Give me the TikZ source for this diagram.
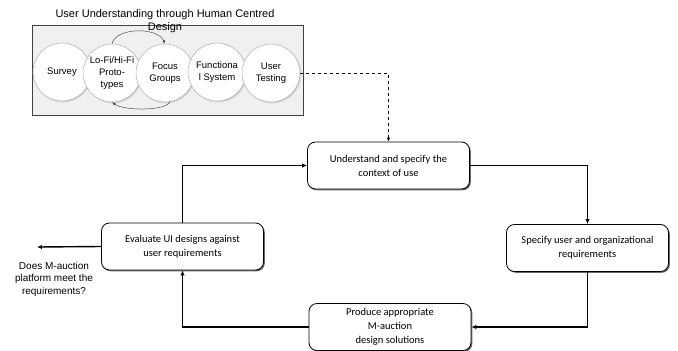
\documentclass[tikz,border=0pt]{standalone}
\usepackage{fontspec}
\setmainfont{Carlito}
\newfontfamily\arialf{Liberation Sans}
\usetikzlibrary{shadows,arrows.meta}
\begin{document}
\begin{tikzpicture}[x=1pt,y=-1pt,
  stepbox/.style={draw, line width=0.8pt, rounded corners=8pt, fill=white,
    minimum width=162pt, minimum height=47pt, align=center,
    font=\fontsize{10.5}{14}\selectfont,
    drop shadow={shadow xshift=1.3pt, shadow yshift=-1.3pt, fill=black!65, opacity=0.9}},
  hcd/.style={circle, draw=gray!60, line width=0.5pt, fill=white, minimum size=58pt,
    inner sep=0pt, align=center, font=\arialf\fontsize{9.5}{12}\selectfont,
    circular drop shadow={shadow xshift=0.8pt, shadow yshift=-0.8pt, shadow scale=1.03, fill=gray!70}},
  flow/.style={line width=1.4pt, -{Latex[length=5pt,width=4.5pt]}},
  loop/.style={line width=0.5pt, draw=black!70, -{Latex[length=3.5pt,width=3pt]}},
]
\useasboundingbox (0,0) rectangle (678,351);

% human centred design panel
\node[draw=black!75, line width=1pt, fill=black!6, minimum width=271pt, minimum height=90pt,
  inner sep=0pt, drop shadow={shadow xshift=1.2pt, shadow yshift=-1.2pt, fill=black!50}] (panel) at (167.5,70) {};
\node[font=\arialf\fontsize{11}{13}\selectfont, align=center] (title) at (165,21) {User Understanding through Human Centred\\Design};

\node[hcd] (survey) at (62,72) {Survey};
\node[hcd] (lofi) at (112,73) {Lo-Fi/Hi-Fi\\Proto-\\types};
\node[hcd] (focus) at (165,73) {Focus\\Groups};
\node[hcd] (func) at (217,72) {Functiona\\l System};
\node[hcd] (usert) at (271,73) {User\\Testing};

\draw[loop] (lofi.north) .. controls (116,27) and (158,27) .. (focus.north);
\draw[loop] (focus.-80) .. controls (166,111) and (124,111) .. (lofi.-90);

% process cycle
\node[stepbox] (understand) at (388.5,165.5) {Understand and specify the\\context of use};
\node[stepbox] (specify) at (587.5,248) {Specify user and organizational\\requirements};
\node[stepbox] (produce) at (390,327) {Produce appropriate\\M-auction\\design solutions};
\node[stepbox] (evaluate) at (182.5,246.5) {Evaluate UI designs against\\user requirements};

\draw[dashed, line width=0.8pt, -{Latex[length=4pt,width=3.5pt]}] (usert.east) -| (understand.north);

\draw[flow] (understand.east) -| (specify.north);
\draw[flow] (specify.south) |- (produce.east);
\draw[flow] (produce.west) -| (evaluate.south);
\draw[flow] (evaluate.north) |- (understand.west);

\coordinate (outend) at (37,247);
\draw[flow] (evaluate.west) -- (outend);
\node[font=\arialf\fontsize{10}{12.5}\selectfont, align=center] (question) at (54,279) {Does M-auction\\platform meet the\\requirements?};
\end{tikzpicture}
\end{document}
